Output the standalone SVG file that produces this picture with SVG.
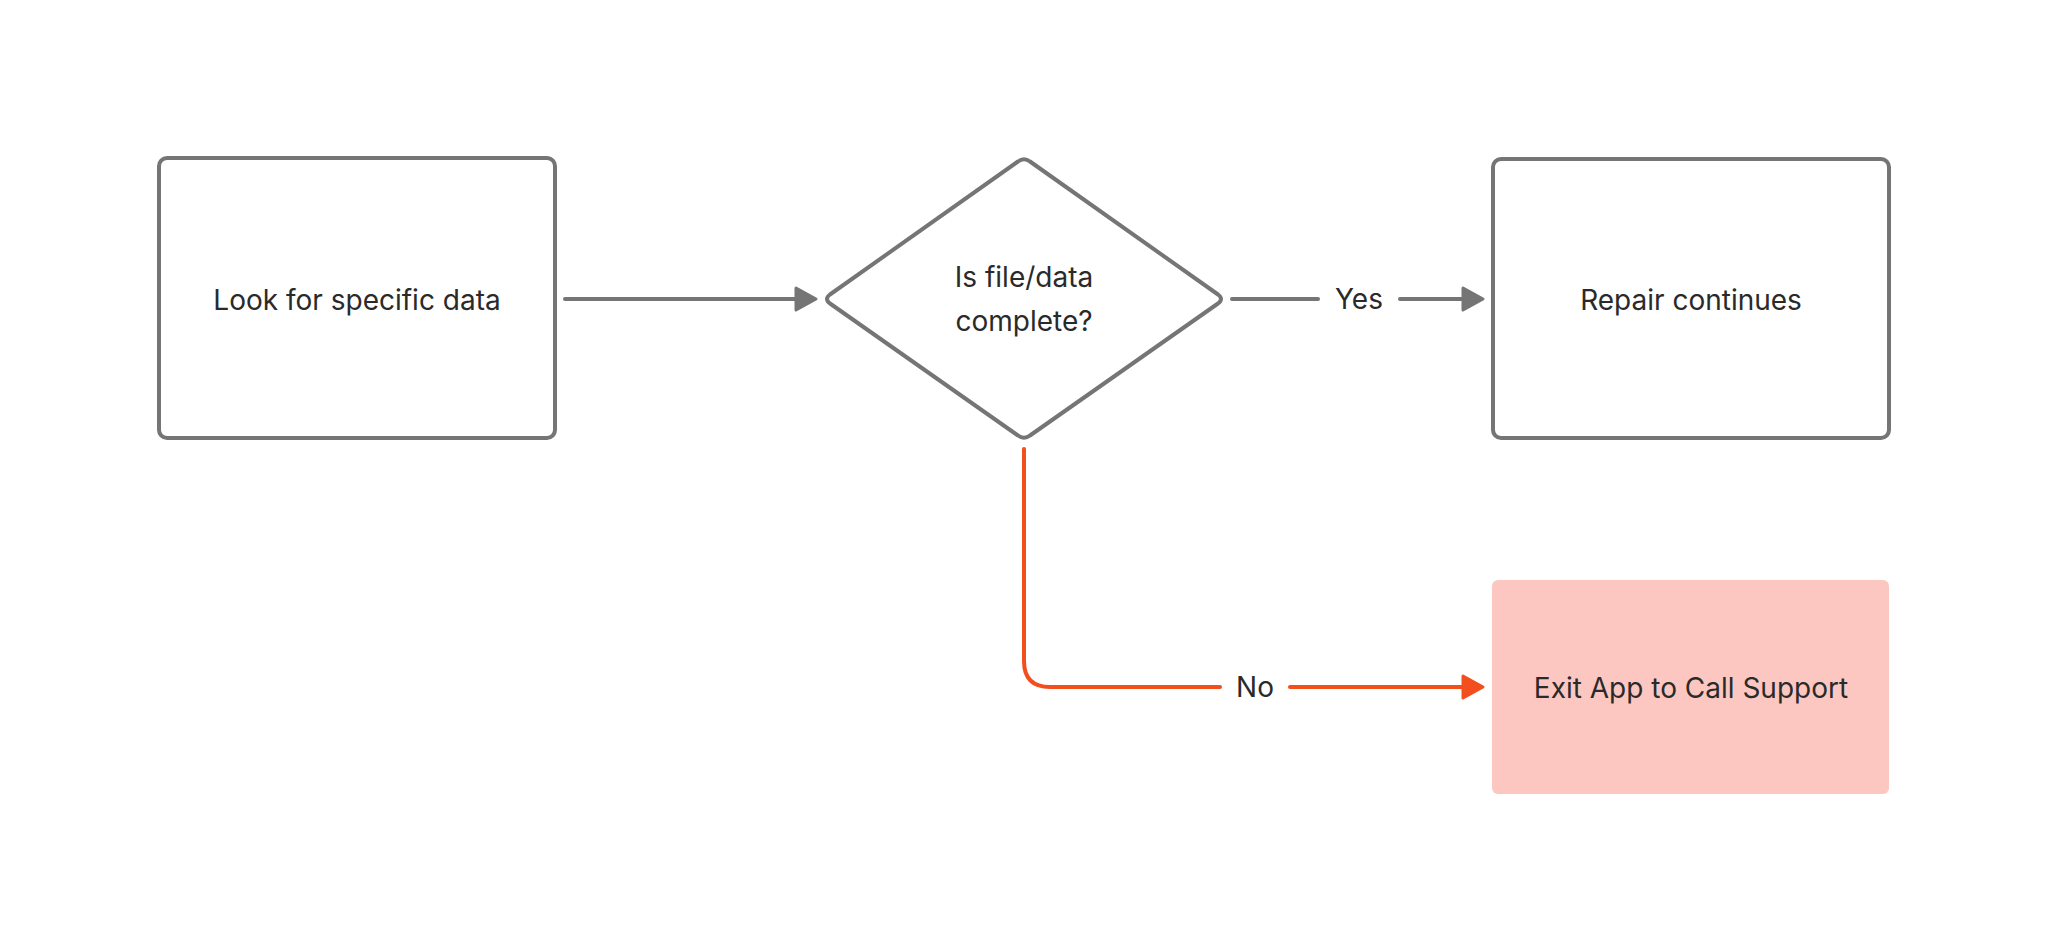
<svg xmlns="http://www.w3.org/2000/svg" width="2048" height="951" viewBox="0 0 2048 951">
<style>
.box{fill:#ffffff;stroke:#757575;stroke-width:4}
.lbl{font-family:Inter,"Liberation Sans",sans-serif;font-size:28px;fill:#2a2a2a;text-anchor:middle}
.cg{fill:none;stroke:#757575;stroke-width:4;stroke-linecap:round}
.co{fill:none;stroke:#F24E1E;stroke-width:4;stroke-linecap:round}
.ag{fill:#757575;stroke:#757575;stroke-width:3;stroke-linejoin:round}
.ao{fill:#F24E1E;stroke:#F24E1E;stroke-width:3;stroke-linejoin:round}
</style>
<rect width="2048" height="951" fill="#ffffff"/>
<g id="node-look">
<rect class="box" x="159" y="158" width="396" height="280" rx="8"/>
<text class="lbl" x="357" y="310">Look for specific data</text>
</g>
<g id="node-decision">
<path class="box" d="M1018 161.5 Q1024 157 1030 161.5 L1218 294.5 Q1224 299 1218 303.5 L1030 435.5 Q1024 440 1018 435.5 L830 303.5 Q824 299 830 294.5 Z" stroke-linejoin="round"/>
<text class="lbl" x="1024" y="287">Is file/data</text>
<text class="lbl" x="1024" y="331">complete?</text>
</g>
<g id="node-repair">
<rect class="box" x="1493" y="159" width="396" height="279" rx="8"/>
<text class="lbl" x="1691" y="310">Repair continues</text>
</g>
<g id="node-exit">
<rect x="1492" y="580" width="397" height="214" rx="6" fill="#FDC7C1"/>
<text class="lbl" x="1691" y="698">Exit App to Call Support</text>
</g>
<g id="connectors">
<line class="cg" x1="565" y1="299" x2="797" y2="299"/>
<path class="ag" d="M796 288 L816 299 L796 310 Z"/>
<line class="cg" x1="1232" y1="299" x2="1318" y2="299"/>
<line class="cg" x1="1400" y1="299" x2="1464" y2="299"/>
<path class="ag" d="M1463 288 L1483 299 L1463 310 Z"/>
<text class="lbl" x="1359" y="309">Yes</text>
<path class="co" d="M1024 449 L1024 661 Q1024 687 1050 687 L1220 687"/>
<line class="co" x1="1290" y1="687" x2="1464" y2="687"/>
<path class="ao" d="M1463 676 L1483 687 L1463 698 Z"/>
<text class="lbl" x="1255" y="697">No</text>
</g>
</svg>
